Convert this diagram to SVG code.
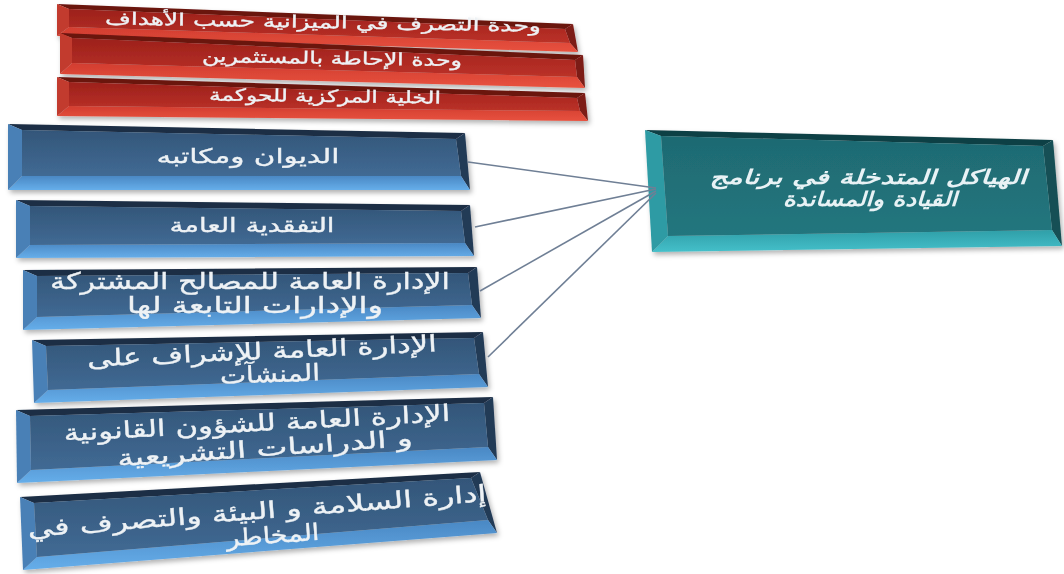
<svg xmlns="http://www.w3.org/2000/svg" width="1064" height="574" viewBox="0 0 1064 574">
<defs>
<filter id="sh" x="-5%" y="-20%" width="110%" height="150%">
<feDropShadow dx="2" dy="3" stdDeviation="2.5" flood-color="#000" flood-opacity="0.3"/>
</filter>
<linearGradient id="gRed" x1="0" y1="0" x2="0" y2="1"><stop offset="0" stop-color="#9c211b"/><stop offset="1" stop-color="#bb3128"/></linearGradient>
<linearGradient id="gBlue" x1="0" y1="0" x2="0" y2="1"><stop offset="0" stop-color="#335679"/><stop offset="1" stop-color="#416a94"/></linearGradient>
<linearGradient id="gTeal" x1="0" y1="0" x2="0" y2="1"><stop offset="0" stop-color="#1e6a72"/><stop offset="1" stop-color="#24767e"/></linearGradient>
<linearGradient id="gBlueB" x1="0" y1="0" x2="0" y2="1"><stop offset="0" stop-color="#4a88c4"/><stop offset="1" stop-color="#66aeea"/></linearGradient>
<linearGradient id="gRedB" x1="0" y1="0" x2="0" y2="1"><stop offset="0" stop-color="#d23d30"/><stop offset="1" stop-color="#e8523f"/></linearGradient>
<linearGradient id="gTealB" x1="0" y1="0" x2="0" y2="1"><stop offset="0" stop-color="#2f9fa8"/><stop offset="1" stop-color="#45c0ca"/></linearGradient>
</defs>
<style>
.rt{fill:#6a140f}.rr{fill:#7c1a14}.rb{fill:url(#gRedB)}.rl{fill:#c23a2d}.rf{fill:url(#gRed)}
.bt{fill:#1b2d44}.br{fill:#233a57}.bb{fill:url(#gBlueB)}.bl{fill:#4a80b6}.bf{fill:url(#gBlue)}
.tt{fill:#113f44}.tr{fill:#165055}.tb{fill:url(#gTealB)}.tl{fill:#2e9ba4}.tf{fill:url(#gTeal)}
.txt{font-family:"DejaVu Sans","Noto Sans",sans-serif;fill:#eef2f5;stroke:#eef2f5;stroke-width:0.35;text-anchor:middle}
.red{font-size:17px}
.s1{font-size:20px}
.s2{font-size:23px}
.main{font-size:20px;font-weight:bold;font-style:italic;fill:#e8f2f5;stroke:none}
.con{stroke:#6f7f95;stroke-width:1.6;fill:none}
</style>

<g id="red1" filter="url(#sh)">
<polygon class="rt" points="57,4 573,24 565,29 69,9"/>
<polygon class="rr" points="573,24 578,52 570,43 565,29"/>
<polygon class="rb" points="57,36 578,52 570,43 69,27"/>
<polygon class="rl" points="57,4 57,36 69,27 69,9"/>
<polygon class="rf" points="69,9 565,29 570,43 69,27"/>
<text class="txt red" x="323" y="28" textLength="436" lengthAdjust="spacingAndGlyphs" transform="rotate(1 323 22)">وحدة التصرف في الميزانية حسب الأهداف</text>
</g>
<g id="red2" filter="url(#sh)">
<polygon class="rt" points="60,33 583,55 575,60 72,38"/>
<polygon class="rr" points="583,55 585,88 577,77 575,60"/>
<polygon class="rb" points="60,74 585,88 577,77 72,63"/>
<polygon class="rl" points="60,33 60,74 72,63 72,38"/>
<polygon class="rf" points="72,38 575,60 577,77 72,63"/>
<text class="txt red" x="332" y="64" textLength="260" lengthAdjust="spacingAndGlyphs" transform="rotate(1 332 58)">وحدة الإحاطة بالمستثمرين</text>
</g>
<g id="red3" filter="url(#sh)">
<polygon class="rt" points="57,77 585,93 577,98 69,82"/>
<polygon class="rr" points="585,93 588,121 580,111 577,98"/>
<polygon class="rb" points="57,116 588,121 580,111 69,106"/>
<polygon class="rl" points="57,77 57,116 69,106 69,82"/>
<polygon class="rf" points="69,82 577,98 580,111 69,106"/>
<text class="txt red" x="325" y="102" textLength="232" lengthAdjust="spacingAndGlyphs" transform="rotate(0.8 325 97)">الخلية المركزية للحوكمة</text>
</g>

<g id="blue1" filter="url(#sh)">
<polygon class="bt" points="8,124 465,133 456,139 22,130"/>
<polygon class="br" points="465,133 470,190 461,176 456,139"/>
<polygon class="bb" points="8,190 470,190 461,176 22,176"/>
<polygon class="bl" points="8,124 8,190 22,176 22,130"/>
<polygon class="bf" points="22,130 456,139 461,176 22,176"/>
<text class="txt s1" x="248" y="163" textLength="183" lengthAdjust="spacingAndGlyphs">الديوان ومكاتبه</text>
</g>
<g id="blue2" filter="url(#sh)">
<polygon class="bt" points="16,200 470,205 461,211 30,206"/>
<polygon class="br" points="470,205 474,256 465,243 461,211"/>
<polygon class="bb" points="16,258 474,256 465,243 30,245"/>
<polygon class="bl" points="16,200 16,258 30,245 30,206"/>
<polygon class="bf" points="30,206 461,211 465,243 30,245"/>
<text class="txt s1" x="252" y="232" textLength="165" lengthAdjust="spacingAndGlyphs">التفقدية العامة</text>
</g>
<g id="blue3" filter="url(#sh)">
<polygon class="bt" points="23,270 477,267 468,273 37,276"/>
<polygon class="br" points="477,267 481,318 472,305 468,273"/>
<polygon class="bb" points="23,330 481,318 472,305 37,317"/>
<polygon class="bl" points="23,270 23,330 37,317 37,276"/>
<polygon class="bf" points="37,276 468,273 472,305 37,317"/>
<text class="txt s2" x="250" y="289" textLength="400" lengthAdjust="spacingAndGlyphs">الإدارة العامة للمصالح المشتركة</text>
<text class="txt s2" x="255" y="313" textLength="256" lengthAdjust="spacingAndGlyphs">والإدارات التابعة لها</text>
</g>
<g id="blue4" filter="url(#sh)">
<polygon class="bt" points="32,340 483,332 474,338 46,346"/>
<polygon class="br" points="483,332 488,387 479,374 474,338"/>
<polygon class="bb" points="34,403 488,387 479,374 48,390"/>
<polygon class="bl" points="32,340 34,403 48,390 46,346"/>
<polygon class="bf" points="46,346 474,338 479,374 48,390"/>
<text class="txt s2" x="262" y="359" textLength="350" lengthAdjust="spacingAndGlyphs" transform="rotate(-2.5 262 353)">الإدارة العامة للإشراف على</text>
<text class="txt s2" x="270" y="382" textLength="100" lengthAdjust="spacingAndGlyphs" transform="rotate(-2 270 376)">المنشآت</text>
</g>
<g id="blue5" filter="url(#sh)">
<polygon class="bt" points="16,410 493,397 484,403 30,416"/>
<polygon class="br" points="493,397 497,460 488,447 484,403"/>
<polygon class="bb" points="17,483 497,460 488,447 31,470"/>
<polygon class="bl" points="16,410 17,483 31,470 30,416"/>
<polygon class="bf" points="30,416 484,403 488,447 31,470"/>
<text class="txt s2" x="257" y="431" textLength="387" lengthAdjust="spacingAndGlyphs" transform="rotate(-3 257 425)">الإدارة العامة للشؤون القانونية</text>
<text class="txt s2" x="265" y="456" textLength="296" lengthAdjust="spacingAndGlyphs" transform="rotate(-4 265 450)">و الدراسات التشريعية</text>
</g>
<g id="blue6" filter="url(#sh)">
<polygon class="bt" points="20,497 480,472 471,478 34,503"/>
<polygon class="br" points="480,472 497,533 488,520 471,478"/>
<polygon class="bb" points="23,570 497,533 488,520 37,557"/>
<polygon class="bl" points="20,497 23,570 37,557 34,503"/>
<polygon class="bf" points="34,503 471,478 488,520 37,557"/>
<text class="txt s2" x="257" y="519" textLength="460" lengthAdjust="spacingAndGlyphs" transform="rotate(-4.5 257 513)">إدارة السلامة و البيئة والتصرف في</text>
<text class="txt s2" x="273" y="543" textLength="93" lengthAdjust="spacingAndGlyphs" transform="rotate(-4 273 537)">المخاطر</text>
</g>

<g id="main" filter="url(#sh)">
<polygon class="tt" points="645,130 1053,140 1043,146 661,136"/>
<polygon class="tr" points="1053,140 1062,246 1052,230 1043,146"/>
<polygon class="tb" points="652,252 1062,246 1052,230 668,236"/>
<polygon class="tl" points="645,130 652,252 668,236 661,136"/>
<polygon class="tf" points="661,136 1043,146 1052,230 668,236"/>
<text class="txt main" x="868" y="184" textLength="317" lengthAdjust="spacingAndGlyphs">الهياكل المتدخلة في برنامج</text>
<text class="txt main" x="870" y="206" textLength="174" lengthAdjust="spacingAndGlyphs">القيادة والمساندة</text>
</g>

<g id="connectors">
<line class="con" x1="468" y1="162" x2="656" y2="188"/>
<line class="con" x1="475" y1="227" x2="656" y2="189"/>
<line class="con" x1="480" y1="291" x2="656" y2="191"/>
<line class="con" x1="488" y1="357" x2="656" y2="193"/>
</g>
</svg>
